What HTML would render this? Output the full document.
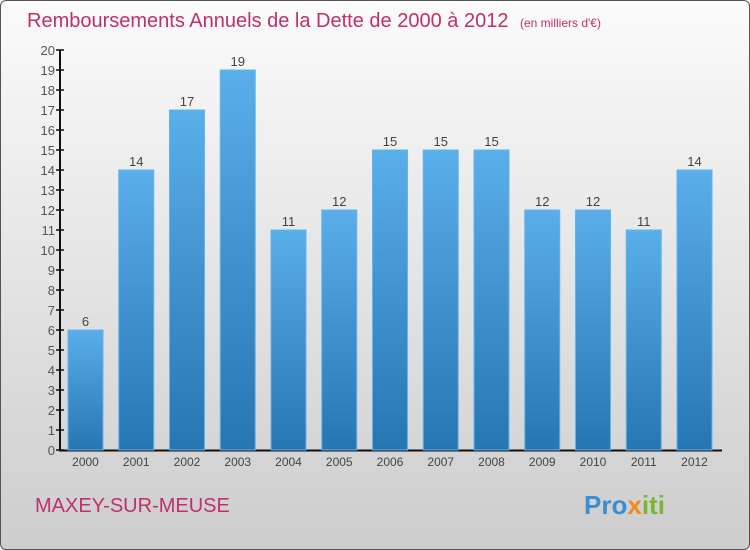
<!DOCTYPE html>
<html><head><meta charset="utf-8"><style>
body{margin:0;width:750px;height:550px;overflow:hidden;font-family:"Liberation Sans",sans-serif}
#wrap{position:absolute;left:0;top:0;width:748px;height:548px;border:1px solid #555;border-radius:6px;background:linear-gradient(#fbfbfb,#cdcdcd)}
</style></head><body>
<div id="wrap">
<svg width="750" height="550" style="position:absolute;left:-1px;top:-1px">
<defs><linearGradient id="bg" x1="0" y1="0" x2="0" y2="1"><stop offset="0" stop-color="#5aaeea"/><stop offset="1" stop-color="#2676b2"/></linearGradient></defs>
<text x="27" y="27" font-size="20" fill="#c0306a">Remboursements Annuels de la Dette de 2000 à 2012 <tspan font-size="12" dx="6">(en milliers d'€)</tspan></text>
<g id="axes"></g><g id="bars"></g>
<text x="35" y="512" font-size="20" fill="#c0306a">MAXEY-SUR-MEUSE</text>
<text x="584" y="514" font-size="26" font-weight="bold" fill="#3a8fd0">Pro<tspan fill="#f08a1c">x</tspan><tspan fill="#7ab534">iti</tspan></text>
</svg></div>
<script>
const categories=["2000","2001","2002","2003","2004","2005","2006","2007","2008","2009","2010","2011","2012"];
const values=[6,14,17,19,11,12,15,15,15,12,12,11,14];
const yTicks=[0,1,2,3,4,5,6,7,8,9,10,11,12,13,14,15,16,17,18,19,20];
const NS="http://www.w3.org/2000/svg";
const y=v=>450-v*20, x=i=>85.5+i*50.75;
function mk(t,a,p){const e=document.createElementNS(NS,t);for(const k in a)e.setAttribute(k,a[k]);p.appendChild(e);return e;}
const ax=document.getElementById('axes'), bg=document.getElementById('bars');
let l=mk('line',{x1:60,y1:50,x2:60,y2:451,stroke:'#111','stroke-width':2},ax);


l=mk('line',{x1:59,y1:450.5,x2:722,y2:450.5,stroke:'#111','stroke-width':2},ax);


yTicks.forEach(v=>{
 let t=mk('line',{x1:56,x2:64,y1:y(v),y2:y(v),stroke:'#111','stroke-width':1.5},ax);
 
 
 let tx=mk('text',{x:55,y:y(v)+5,'font-size':13,fill:'#555','text-anchor':'end'},ax);
 tx.textContent=v;
 
 
});
categories.forEach((c,i)=>{
 const v=values[i];
 let r=mk('rect',{x:x(i)-17.5,y:y(v),width:35,height:v*20,fill:'url(#bg)',stroke:'#62b4ee','stroke-width':1},bg);
 
 
 let t=mk('text',{x:x(i),y:y(v)-4,'font-size':13,fill:'#444','text-anchor':'middle'},bg);
 t.textContent=v;
 
 
 let xl=mk('text',{x:x(i),y:466,'font-size':12,fill:'#444','text-anchor':'middle'},bg);
 xl.textContent=c;
 
 
});
</script>
</body></html>
